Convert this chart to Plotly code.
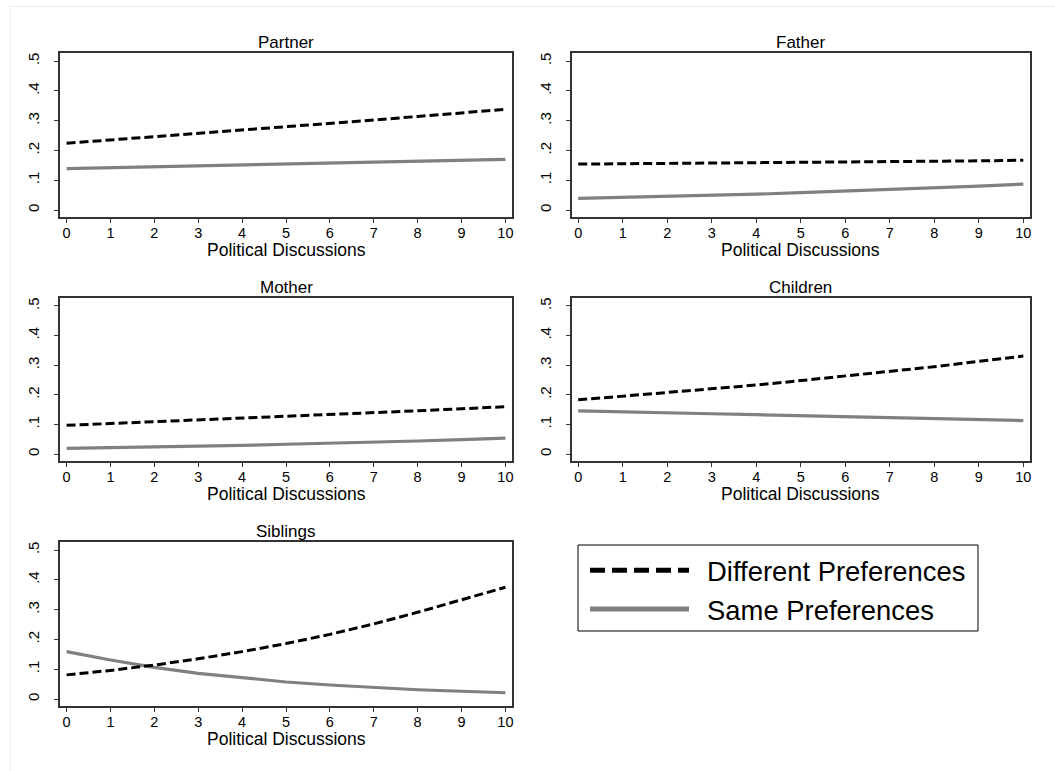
import plotly.graph_objects as go

# ---------------- data ----------------
discussions = [0, 1, 2, 3, 4, 5, 6, 7, 8, 9, 10]
x_ticks = [0, 1, 2, 3, 4, 5, 6, 7, 8, 9, 10]
y_ticks = [0, 0.1, 0.2, 0.3, 0.4, 0.5]
y_tick_labels = ["0", ".1", ".2", ".3", ".4", ".5"]

panel_names = ["Partner", "Father", "Mother", "Children", "Siblings"]
series_names = ["Different Preferences", "Same Preferences"]

partner_diff = [0.224, 0.235, 0.245, 0.256, 0.267, 0.279, 0.290, 0.302, 0.314, 0.326, 0.338]
partner_same = [0.139, 0.142, 0.145, 0.148, 0.151, 0.154, 0.157, 0.160, 0.163, 0.167, 0.170]

father_diff = [0.154, 0.155, 0.156, 0.158, 0.159, 0.160, 0.161, 0.162, 0.164, 0.165, 0.167]
father_same = [0.039, 0.042, 0.045, 0.049, 0.053, 0.058, 0.063, 0.068, 0.074, 0.080, 0.087]

mother_diff = [0.097, 0.103, 0.108, 0.114, 0.120, 0.126, 0.132, 0.139, 0.146, 0.153, 0.160]
mother_same = [0.019, 0.021, 0.023, 0.026, 0.029, 0.033, 0.036, 0.040, 0.044, 0.049, 0.054]

children_diff = [0.183, 0.195, 0.207, 0.220, 0.233, 0.248, 0.263, 0.279, 0.295, 0.313, 0.331]
children_same = [0.146, 0.142, 0.139, 0.136, 0.133, 0.130, 0.126, 0.123, 0.120, 0.116, 0.113]

siblings_diff = [0.081, 0.096, 0.114, 0.135, 0.159, 0.186, 0.217, 0.252, 0.291, 0.333, 0.375]
siblings_same = [0.159, 0.131, 0.106, 0.086, 0.072, 0.057, 0.047, 0.038, 0.031, 0.026, 0.021]

diff_series = [partner_diff, father_diff, mother_diff, children_diff, siblings_diff]
same_series = [partner_same, father_same, mother_same, children_same, siblings_same]

# ---------------- layout helpers ----------------
W, H = 1055, 771
FONT = "Liberation Sans, Arial, Helvetica, sans-serif"
FRAME = "#333333"
GRAY = "#808080"


def px(x):
    return x / W


def py(y):
    return 1 - y / H


col_px = [(60, 512), (571.5, 1030)]
row_px = [(53, 217), (298, 461), (542, 706)]
cells = [(0, 0), (0, 1), (1, 0), (1, 1), (2, 0)]

fig = go.Figure()

# legend entries
fig.add_trace(go.Scatter(x=[None], y=[None], mode="lines", name="\u00a0\u2009" + series_names[0],
                         legendgroup="diff", showlegend=True,
                         line=dict(color="black", width=5, dash="15px,7px")))
fig.add_trace(go.Scatter(x=[None], y=[None], mode="lines", name="\u00a0\u2009" + series_names[1],
                         legendgroup="same", showlegend=True,
                         line=dict(color=GRAY, width=5)))

annotations = []
layout_axes = {}
for i, (name, (r, c)) in enumerate(zip(panel_names, cells)):
    n = i + 1
    xa = "x" if n == 1 else f"x{n}"
    ya = "y" if n == 1 else f"y{n}"
    fig.add_trace(go.Scatter(x=discussions, y=same_series[i], mode="lines",
                             xaxis=xa, yaxis=ya, legendgroup="same", showlegend=False,
                             name=series_names[1],
                             line=dict(color=GRAY, width=3.2)))
    fig.add_trace(go.Scatter(x=discussions, y=diff_series[i], mode="lines",
                             xaxis=xa, yaxis=ya, legendgroup="diff", showlegend=False,
                             name=series_names[0],
                             line=dict(color="black", width=3, dash="9px,4px")))
    x0, x1 = col_px[c]
    top, bot = row_px[r]
    xkey = "xaxis" if n == 1 else f"xaxis{n}"
    ykey = "yaxis" if n == 1 else f"yaxis{n}"
    layout_axes[xkey] = dict(
        domain=[px(x0), px(x1)], anchor=ya, range=[-0.15, 10.15],
        tickmode="array", tickvals=x_ticks, ticktext=[str(t) for t in x_ticks],
        ticks="outside", ticklen=4, tickwidth=1, tickcolor=FRAME,
        showline=True, linecolor=FRAME, linewidth=2, mirror=True,
        showgrid=False, zeroline=False,
        ticklabelstandoff=-2,
        tickfont=dict(family=FONT, size=14.5, color="black"),
        fixedrange=True,
    )
    layout_axes[ykey] = dict(
        domain=[py(bot), py(top)], anchor=xa, range=[-0.0235, 0.527],
        tickmode="array", tickvals=y_ticks, ticktext=y_tick_labels,
        ticks="outside", ticklen=4, tickwidth=1, tickcolor=FRAME,
        showline=True, linecolor=FRAME, linewidth=2, mirror=True,
        showgrid=False, zeroline=False, tickangle=-90,
        ticklabelstandoff=9,
        tickfont=dict(family=FONT, size=15, color="black"),
        fixedrange=True,
    )
    # panel title
    annotations.append(dict(text=name, x=px((x0 + x1) / 2), y=py(top - 10.5),
                            xref="paper", yref="paper", xanchor="center", yanchor="middle",
                            showarrow=False, font=dict(family=FONT, size=17, color="black")))
    # x-axis title
    annotations.append(dict(text="Political Discussions", x=px((x0 + x1) / 2), y=py(bot + 33),
                            xref="paper", yref="paper", xanchor="center", yanchor="middle",
                            showarrow=False, font=dict(family=FONT, size=17.5, color="black")))

shapes = [
    # faint outer graph-region frame
    dict(type="rect", xref="paper", yref="paper", x0=px(10.5), y0=py(6.5), x1=px(1100), y1=py(800),
         line=dict(color="#e8eef2", width=1), fillcolor="rgba(0,0,0,0)", layer="below"),
    # legend frame
    dict(type="rect", xref="paper", yref="paper", x0=px(578), y0=py(545), x1=px(978), y1=py(631),
         line=dict(color="black", width=1), fillcolor="rgba(0,0,0,0)"),
]

fig.update_layout(
    width=W, height=H,
    margin=dict(l=0, r=0, t=0, b=0),
    paper_bgcolor="white", plot_bgcolor="white",
    font=dict(family=FONT, color="black"),
    showlegend=True,
    legend=dict(x=px(585), y=py(546), xanchor="left", yanchor="top",
                bgcolor="rgba(0,0,0,0)", borderwidth=0, itemwidth=99,
                font=dict(family=FONT, size=27.4, color="black"),
                tracegroupgap=0),
    annotations=annotations,
    shapes=shapes,
    **layout_axes,
)

fig.write_html("out.html")
